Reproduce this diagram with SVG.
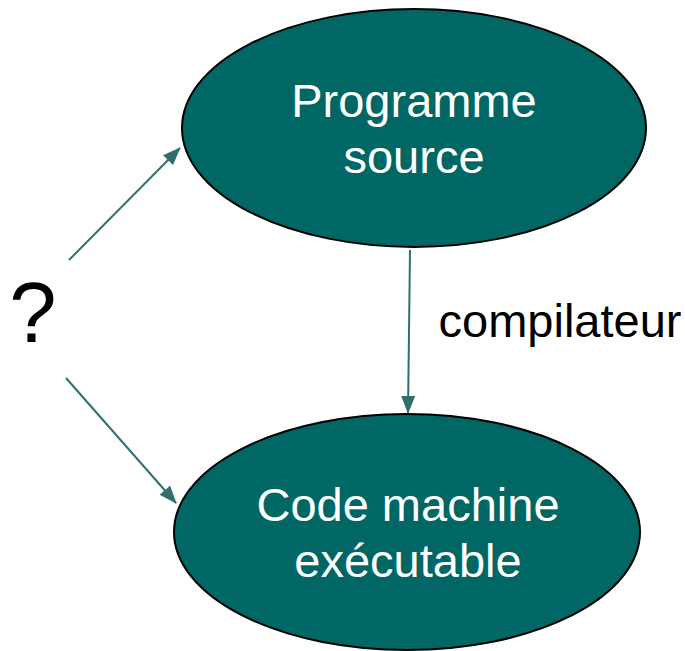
<svg xmlns="http://www.w3.org/2000/svg" width="685" height="651" viewBox="0 0 685 651">
  <style>
    .node { fill: #006764; stroke: #000; stroke-width: 2; }
    .label { font-family: "Liberation Sans", Arial, sans-serif; font-size: 47px; text-anchor: middle; }
    .in { fill: #fff; }
    .out { fill: #000; }
    .edge { stroke: #336e6e; stroke-width: 2; fill: none; marker-end: url(#head); }
  </style>
  <defs>
    <marker id="head" markerUnits="userSpaceOnUse" markerWidth="18" markerHeight="16" viewBox="0 0 18 16" refX="17" refY="8" orient="auto">
      <path d="M0,1 L18,8 L0,15 Z" fill="#336e6e"/>
    </marker>
  </defs>

  <g id="connectors">
    <line class="edge" x1="69" y1="260" x2="180" y2="148"/>
    <line class="edge" x1="66" y1="378" x2="176" y2="503"/>
    <line class="edge" x1="410" y1="250" x2="408" y2="413"/>
  </g>

  <g id="source">
    <ellipse class="node" cx="414" cy="128" rx="232" ry="119"/>
    <text class="label in" x="414" y="117">Programme</text>
    <text class="label in" x="414" y="173">source</text>
  </g>

  <g id="machine">
    <ellipse class="node" cx="407" cy="532" rx="233" ry="118"/>
    <text class="label in" x="408" y="521">Code machine</text>
    <text class="label in" x="408" y="577">exécutable</text>
  </g>

  <g id="compiler-label">
    <text class="label out" x="560" y="337">compilateur</text>
  </g>

  <g id="unknown">
    <text class="label out" x="33" y="342" style="font-size:85px">?</text>
  </g>
</svg>
